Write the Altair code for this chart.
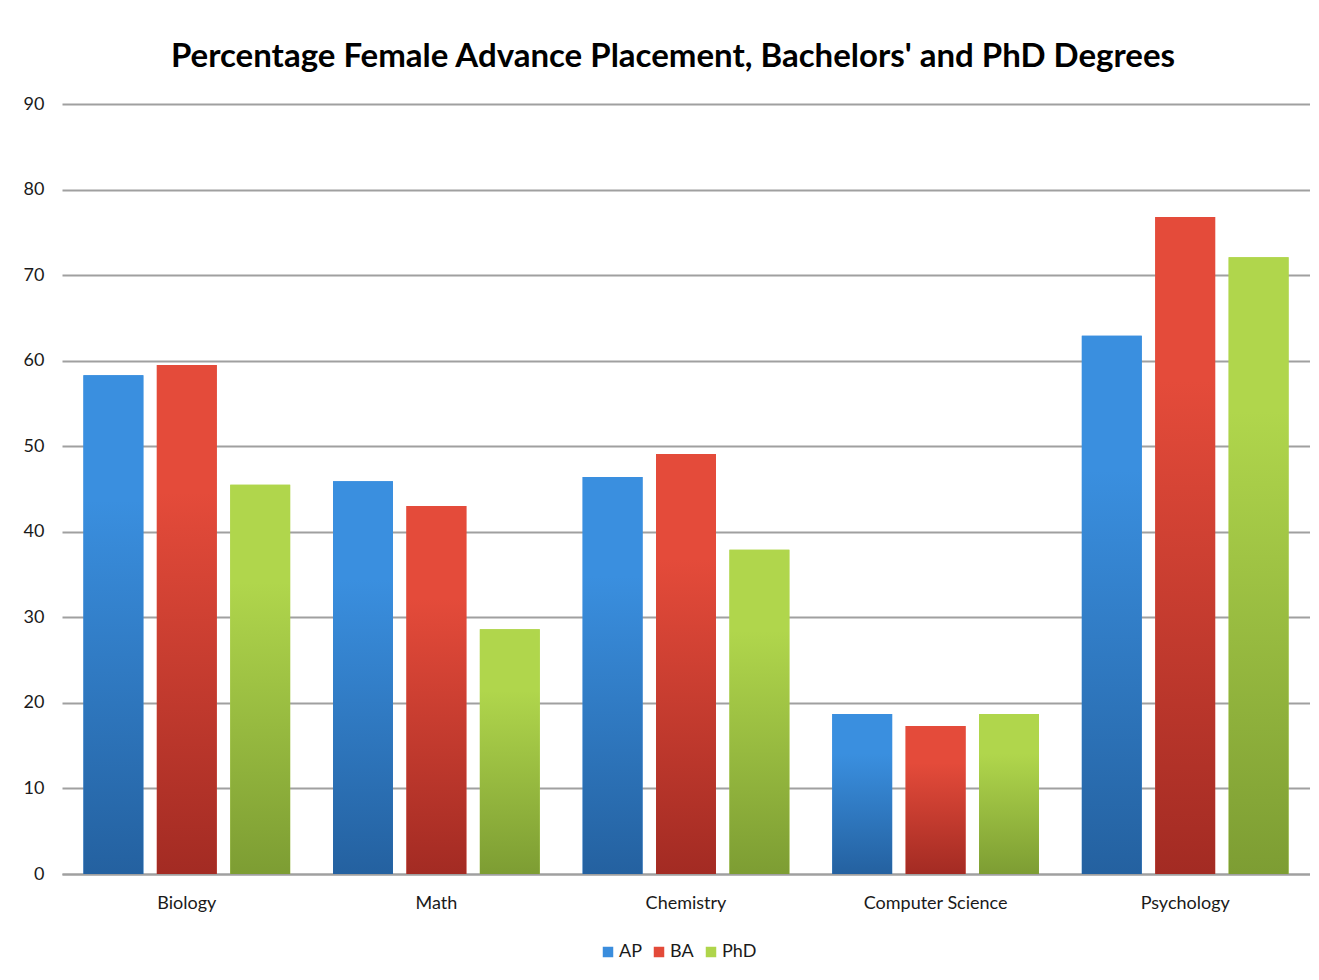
import altair as alt
import pandas as pd

categories = ["Biology", "Math", "Chemistry", "Computer Science", "Psychology"]
series_names = ["AP", "BA", "PhD"]
ap = [58.3, 45.9, 46.4, 18.7, 62.9]
ba = [59.5, 43.0, 49.1, 17.3, 76.8]
phd = [45.5, 28.6, 37.9, 18.7, 72.1]
y_ticks = [0, 10, 20, 30, 40, 50, 60, 70, 80, 90]

solid = ["#3A8DDD", "#E34A39", "#AFD54B"]
grad_top = ["#3A8FDF", "#E44B3A", "#B0D64C"]
grad_bot = ["#2461A0", "#A32B23", "#7D9D33"]

rows = []
for s, vals in zip(series_names, [ap, ba, phd]):
    for c, v in zip(categories, vals):
        rows.append({"category": c, "series": s, "value": v})
df = pd.DataFrame(rows)

FONT = "Lato"

x_enc = alt.X(
    "category:N",
    sort=categories,
    scale=alt.Scale(paddingInner=0, paddingOuter=0),
    axis=alt.Axis(
        title=None, labelAngle=0, ticks=False, grid=False,
        domain=True, domainColor="#A0A0A0", domainWidth=2,
        labelFont=FONT, labelFontSize=18, labelColor="#1a1a1a", labelPadding=20,
    ),
)
xo_enc = alt.XOffset(
    "series:N", sort=series_names,
    scale=alt.Scale(paddingInner=0.1837, paddingOuter=0.292),
)
y_enc = alt.Y(
    "value:Q",
    scale=alt.Scale(domain=[0, 90], nice=False),
    axis=alt.Axis(
        title=None, values=y_ticks, ticks=False, domain=False,
        grid=True, gridColor="#A0A0A0", gridWidth=2,
        labelFont=FONT, labelFontSize=18, labelColor="#1a1a1a", labelPadding=18,
    ),
)

base = alt.Chart(df).mark_bar().encode(
    x=x_enc,
    xOffset=xo_enc,
    y=y_enc,
    color=alt.Color(
        "series:N",
        sort=series_names,
        scale=alt.Scale(domain=series_names, range=solid),
        legend=alt.Legend(
            title=None, orient="none", direction="horizontal",
            legendX=537, legendY=839,
            symbolType="square", symbolSize=110, symbolStrokeWidth=0,
            labelFont=FONT, labelFontSize=18, labelColor="#1a1a1a",
            labelOffset=2, columnPadding=8,
        ),
    ),
)

layers = [base]
for i, s in enumerate(series_names):
    g = alt.Gradient(
        gradient="linear",
        stops=[
            alt.GradientStop(color=grad_top[i], offset=0),
            alt.GradientStop(color=grad_top[i], offset=0.25),
            alt.GradientStop(color=grad_bot[i], offset=1),
        ],
        x1=0, x2=0, y1=0, y2=1,
    )
    layers.append(
        alt.Chart(df).transform_filter(alt.datum.series == s)
        .mark_bar(fill=g)
        .encode(x=x_enc, xOffset=xo_enc, y=y_enc)
    )

chart = alt.layer(*layers).properties(
    width=1248,
    height=770,
    autosize=alt.AutoSizeParams(type="none"),
    padding={"left": 54, "top": 96, "right": 0, "bottom": 86},
    background="white",
    title=alt.Title(
        "Percentage Female Advance Placement, Bachelors' and PhD Degrees",
        font=FONT, fontSize=33, fontWeight="bold", color="#000000",
        anchor="middle", offset=21, dx=-13,
    ),
).configure_view(stroke=None)

chart.save("out.html", embed_options={"renderer": "svg", "actions": False})
